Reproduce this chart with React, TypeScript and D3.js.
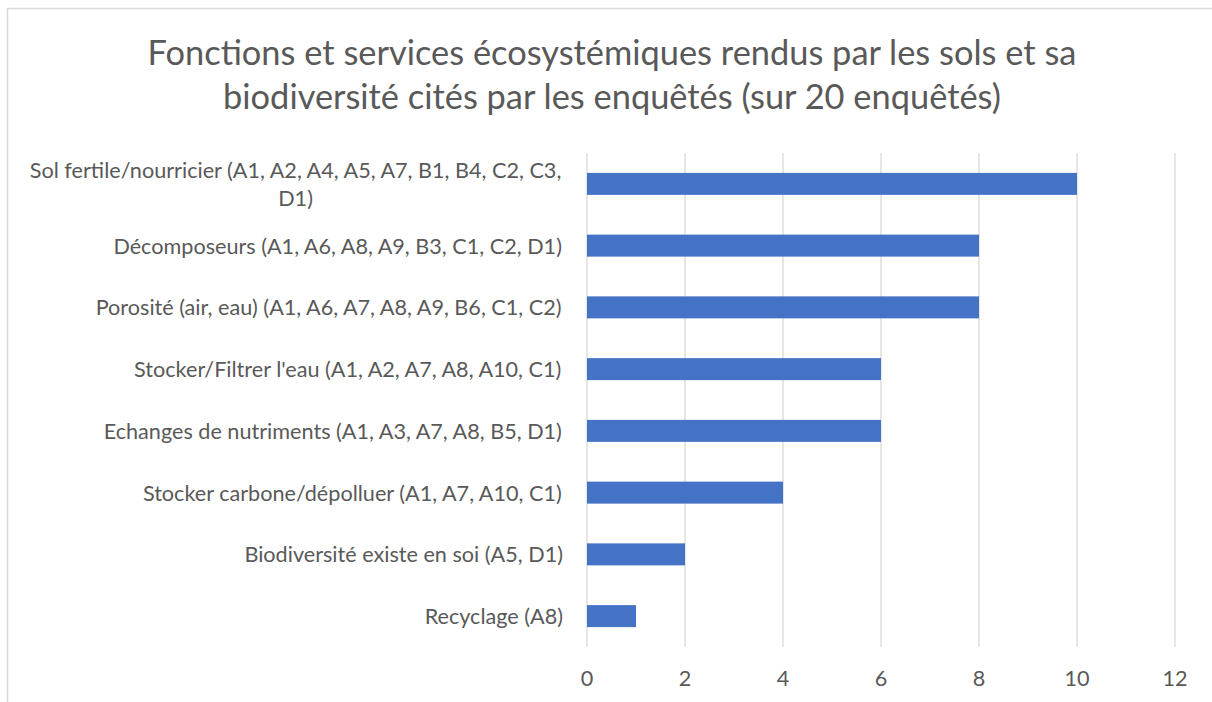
import React, { useMemo } from 'react';
import * as d3 from 'd3';

const titleLines = [
  'Fonctions et services écosystémiques rendus par les sols et sa',
  'biodiversité cités par les enquêtés (sur 20 enquêtés)',
];

const categories = [
  'Sol fertile/nourricier (A1, A2, A4, A5, A7, B1, B4, C2, C3, D1)',
  'Décomposeurs (A1, A6, A8, A9, B3, C1, C2, D1)',
  'Porosité (air, eau) (A1, A6, A7, A8, A9, B6, C1, C2)',
  "Stocker/Filtrer l'eau (A1, A2, A7, A8, A10, C1)",
  'Echanges de nutriments (A1, A3, A7, A8, B5, D1)',
  'Stocker carbone/dépolluer (A1, A7, A10, C1)',
  'Biodiversité existe en soi (A5, D1)',
  'Recyclage (A8)',
];

const values = [10, 8, 8, 6, 6, 4, 2, 1];

const xTicks = [0, 2, 4, 6, 8, 10, 12];

const FONT_NAME = 'Lato';
const FONT = 'Lato, "Open Sans", sans-serif';
const TEXT = '#595959';
const GRID = '#d9d9d9';
const BAR = '#4472c4';

function measurer() {
  const ctx = document.createElement('canvas').getContext('2d') as CanvasRenderingContext2D;
  return (text: string, size: number) => {
    ctx.font = `${size}px ${FONT_NAME}`;
    return ctx.measureText(text).width;
  };
}

function wrap(text: string, size: number, maxW: number, m: (t: string, s: number) => number) {
  const words = text.split(' ');
  const lines: string[] = [];
  let cur = '';
  for (const w of words) {
    const next = cur ? cur + ' ' + w : w;
    if (cur && m(next, size) > maxW) {
      lines.push(cur);
      cur = w;
    } else cur = next;
  }
  if (cur) lines.push(cur);
  return lines;
}

export default function App() {
  const W = 1212;
  const H = 702;
  const plotLeft = 587;
  const plotRight = 1175;
  const plotTop = 153;
  const plotBottom = 647;
  const labelRight = 563;

  const layout = useMemo(() => {
    const m = measurer();
    // calibrate font sizes to the reference text widths
    const labelSize = 20 * (451 / m(categories[1], 20));
    const titleSize = 30 * (930 / m(titleLines[0], 30));
    const labels = categories.map((c) => {
      const lines = wrap(c, labelSize, 545, m);
      const widths = lines.map((l) => m(l, labelSize));
      return { lines, blockW: Math.max(...widths) };
    });
    return { labelSize, titleSize, labels };
  }, []);

  const x = d3.scaleLinear().domain([0, 12]).range([plotLeft, plotRight]);
  const y = d3
    .scaleBand<string>()
    .domain(categories)
    .range([plotTop, plotBottom])
    .paddingInner(0.644)
    .paddingOuter(0.322);

  const lh = layout.labelSize * 1.3;

  return (
    <svg
      width={W}
      height={H}
      style={{ position: 'absolute', left: 0, top: 0, display: 'block', background: '#fff' }}
      fontFamily={FONT}
    >
      <rect x={7.5} y={8.5} width={1400} height={900} fill="#fff" stroke={GRID} strokeWidth={1.5} />
      {titleLines.map((t, i) => (
        <text
          key={i}
          x={612}
          y={65 + i * 44}
          textAnchor="middle"
          fontSize={layout.titleSize}
          fill={TEXT}
        >
          {t}
        </text>
      ))}
      {xTicks.map((t) => (
        <line key={t} x1={x(t)} x2={x(t)} y1={plotTop} y2={plotBottom} stroke={GRID} strokeWidth={1.3} />
      ))}
      {categories.map((c, i) => (
        <rect
          key={c}
          x={x(0)}
          y={y(c)}
          width={x(values[i]) - x(0)}
          height={y.bandwidth()}
          fill={BAR}
        />
      ))}
      {categories.map((c, i) => {
        const { lines, blockW } = layout.labels[i];
        const cy = (y(c) as number) + y.bandwidth() / 2;
        const y0 = cy - ((lines.length - 1) * lh) / 2;
        const cx = labelRight - blockW / 2;
        return (
          <text key={c} fontSize={layout.labelSize} fill={TEXT} textAnchor="middle" dominantBaseline="central">
            {lines.map((l, j) => (
              <tspan key={j} x={cx} y={y0 + j * lh}>
                {l}
              </tspan>
            ))}
          </text>
        );
      })}
      {xTicks.map((t) => (
        <text
          key={t}
          x={x(t)}
          y={678}
          textAnchor="middle"
          dominantBaseline="central"
          fontSize={layout.labelSize}
          fill={TEXT}
        >
          {t}
        </text>
      ))}
    </svg>
  );
}
